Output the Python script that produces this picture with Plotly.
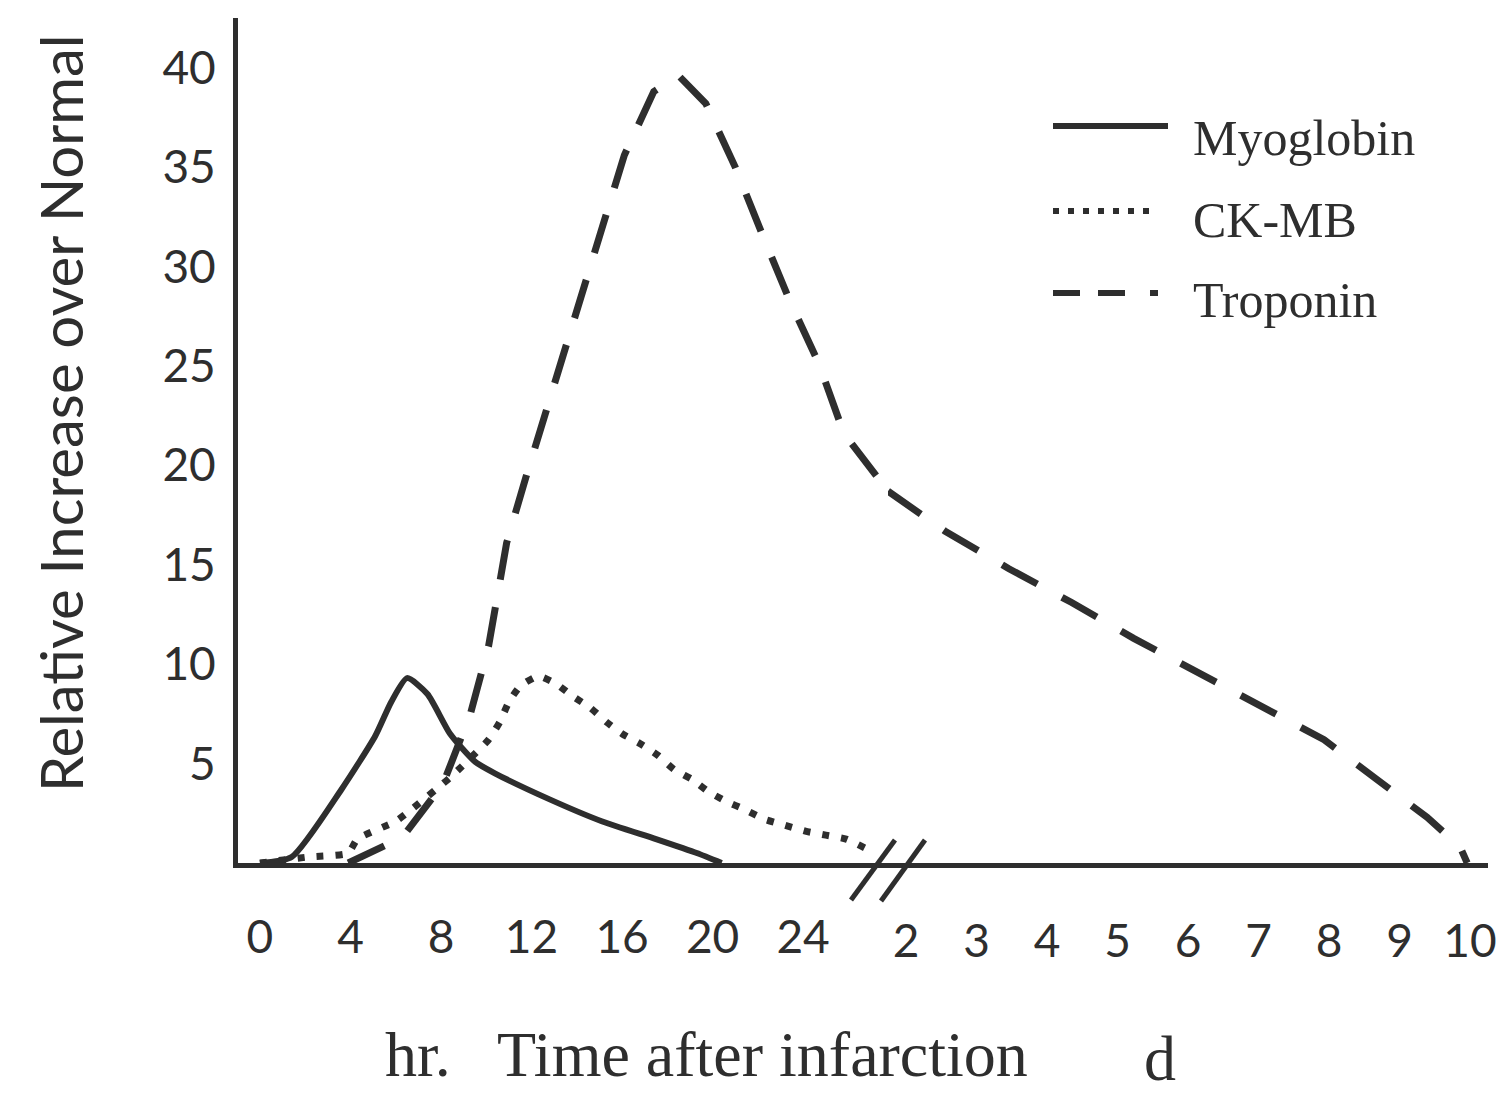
import plotly.graph_objects as go

# ---------------- data ----------------
hour_ticks = [0, 4, 8, 12, 16, 20, 24]
day_ticks = [2, 3, 4, 5, 6, 7, 8, 9, 10]
y_ticks = [5, 10, 15, 20, 25, 30, 35, 40]

# Myoglobin (hours after infarction, relative increase)
myo_hr = [0, 1.4, 3.6, 5.1, 5.8, 6.5, 7.4, 8.4, 9.5, 10.4, 12.8, 15.1, 17.5, 19.3, 20.4]
myo_val = [0, 0.3, 3.7, 6.4, 8.1, 9.3, 8.5, 6.5, 5.1, 4.5, 3.2, 2.1, 1.2, 0.5, 0]

# CK-MB (hours)
ck_hr = [0, 2.1, 3.9, 4.3, 6.0, 6.7, 8.4, 10.1, 10.6, 11.0, 11.5, 12.3, 13.1, 13.8, 14.6,
         15.3, 16.0, 16.8, 17.6, 18.3, 19.1, 19.8, 20.6, 21.4, 22.3, 23.2, 24.1, 25.0,
         25.9, 27.0]
ck_val = [0, 0.3, 0.5, 1.2, 2.1, 2.7, 4.3, 6.2, 7.1, 8.1, 8.9, 9.4, 9.0, 8.4, 7.8,
          7.1, 6.5, 6.0, 5.4, 4.7, 4.2, 3.6, 3.1, 2.7, 2.2, 1.9, 1.6, 1.4,
          1.2, 0.6]

# Troponin: hour segment and day segment
trop_hr = [3.9, 6.3, 8.1, 9.3, 10.1, 10.9, 11.75, 12.6, 13.5, 14.3, 15.2, 16.1, 17.4,
           18.5, 19.7, 21.0, 22.2, 23.4, 24.7, 25.8, 27.75]
trop_hr_val = [0, 1.3, 4.0, 7.5, 10.9, 16.1, 19.4, 22.6, 25.9, 29.1, 32.4, 35.6, 38.8,
               39.6, 38.2, 35.0, 31.6, 28.3, 25.1, 21.6, 18.7]
trop_day = [1.745, 2.55, 3.46, 4.35, 5.23, 6.14, 7.06, 7.93, 8.68, 9.39, 9.86, 9.96]
trop_day_val = [18.7, 16.7, 14.8, 13.1, 11.3, 9.6, 7.9, 6.2, 4.2, 2.3, 0.8, 0]

series_names = ["Myoglobin", "CK-MB", "Troponin"]

# ---------------- layout helpers ----------------
W, H = 1506, 1096
INK = "#2e2e2e"


def px(p):
    return p / W


def py(p):
    return 1 - p / H


fig = go.Figure()

fig.add_trace(go.Scatter(x=myo_hr, y=myo_val, mode="lines", name=series_names[0],
                         line=dict(color=INK, width=6, shape="spline", smoothing=0.6),
                         xaxis="x", yaxis="y", showlegend=False))
fig.add_trace(go.Scatter(x=ck_hr, y=ck_val, mode="lines", name=series_names[1],
                         line=dict(color=INK, width=7, dash="7px,12px", shape="spline", smoothing=0.5),
                         xaxis="x", yaxis="y", showlegend=False))
fig.add_trace(go.Scatter(x=trop_hr, y=trop_hr_val, mode="lines", name=series_names[2],
                         line=dict(color=INK, width=7, dash="40px,28px"),
                         xaxis="x", yaxis="y", showlegend=False))
fig.add_trace(go.Scatter(x=trop_day, y=trop_day_val, mode="lines", name=series_names[2],
                         line=dict(color=INK, width=7, dash="40px,28px"),
                         xaxis="x2", yaxis="y", showlegend=False))

tick_font = dict(family="Lato, Noto Sans, sans-serif", size=46, color=INK)

fig.update_layout(
    width=W, height=H,
    margin=dict(l=0, r=0, t=0, b=0),
    paper_bgcolor="white", plot_bgcolor="white",
    showlegend=False,
    xaxis=dict(domain=[px(230), px(880)], range=[-0.97, 27.75], anchor="y",
               tickmode="array", tickvals=hour_ticks, ticktext=[str(t) for t in hour_ticks],
               showline=True, linewidth=5, linecolor=INK, showgrid=False, zeroline=False,
               ticks="", tickfont=tick_font, ticklabelstandoff=30, automargin=False),
    xaxis2=dict(domain=[px(880), px(1480)], range=[1.745, 10.255], anchor="y",
                tickmode="array", tickvals=day_ticks, ticktext=[str(t) for t in day_ticks],
                showline=True, linewidth=5, linecolor=INK, showgrid=False, zeroline=False,
                ticks="", tickfont=tick_font, ticklabelstandoff=34, automargin=False),
    yaxis=dict(domain=[py(855), py(10)], range=[0, 42.5], anchor="x",
               tickmode="array", tickvals=y_ticks, ticktext=[str(t) for t in y_ticks],
               showline=True, linewidth=5, linecolor=INK, showgrid=False, zeroline=False,
               ticks="", tickfont=tick_font, ticklabelstandoff=8, automargin=False),
)

# axis break marks
for (x0, y0, x1, y1) in [(843, 892, 887, 832), (873, 893, 917, 832)]:
    fig.add_shape(type="line", xref="paper", yref="paper",
                  x0=px(x0), y0=py(y0), x1=px(x1), y1=py(y1),
                  line=dict(color=INK, width=5))

# legend (drawn manually to match long line samples)
legend_rows = [
    (series_names[0], 118, 130, "solid", 1160),
    (series_names[1], 203, 212, "6px,9px", 1148),
    (series_names[2], 285, 292, "27px,18px,27px,25px,8px,200px", 1150),
]
for name, ly, ty, dash, xend in legend_rows:
    fig.add_shape(type="line", xref="paper", yref="paper",
                  x0=px(1045), y0=py(ly), x1=px(xend), y1=py(ly),
                  line=dict(color=INK, width=6, dash=dash))
    fig.add_annotation(text=name, xref="paper", yref="paper", x=px(1183), y=py(ty),
                       xanchor="left", yanchor="middle", showarrow=False,
                       font=dict(family="Liberation Serif, serif", size=50, color=INK))

# axis titles
fig.add_annotation(text="Relative Increase over Normal", xref="paper", yref="paper",
                   x=px(52), y=py(405), textangle=-90, showarrow=False,
                   xanchor="center", yanchor="middle",
                   font=dict(family="Lato, Noto Sans, sans-serif", size=58, color=INK))
title_font = dict(family="Liberation Serif, serif", size=64, color=INK)
fig.add_annotation(text="hr.", xref="paper", yref="paper", x=px(410), y=py(1046),
                   showarrow=False, xanchor="center", yanchor="middle", font=title_font)
fig.add_annotation(text="Time after infarction", xref="paper", yref="paper", x=px(754), y=py(1046),
                   showarrow=False, xanchor="center", yanchor="middle", font=title_font)
fig.add_annotation(text="d", xref="paper", yref="paper", x=px(1152), y=py(1050),
                   showarrow=False, xanchor="center", yanchor="middle", font=title_font)

fig.write_html("out.html")
